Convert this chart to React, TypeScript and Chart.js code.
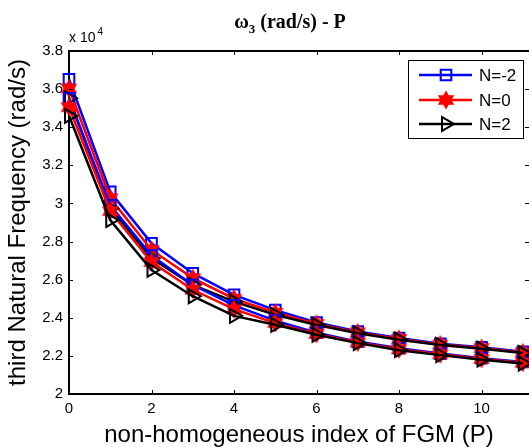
import React, { useEffect, useRef } from 'react';
import { Chart, registerables } from 'chart.js';
import { drawPoint } from 'chart.js/helpers';

Chart.register(...registerables);

// non-homogeneous index of FGM (P)
const P = [0, 1, 2, 3, 4, 5, 6, 7, 8, 9, 10, 11];

// third natural frequency (rad/s), upper group
const blueUpper = [36520, 30610, 27910, 26340, 25200, 24400, 23750, 23280, 22940, 22640, 22450, 22220];
const redUpper = [36030, 30270, 27560, 26080, 25000, 24270, 23680, 23230, 22890, 22600, 22410, 22180];
const blackUpper = [35520, 29740, 27120, 25730, 24850, 24150, 23620, 23190, 22850, 22570, 22380, 22150];

// lower group
const blueLower = [35500, 29900, 27270, 25720, 24650, 23850, 23220, 22750, 22400, 22120, 21880, 21680];
const redLower = [35050, 29600, 26930, 25470, 24450, 23720, 23150, 22700, 22350, 22080, 21840, 21640];
const blackLower = [34600, 29130, 26510, 25130, 24100, 23630, 23110, 22670, 22300, 22040, 21800, 21600];

const legendLabels = ['N=-2', 'N=0', 'N=2'];
const yTickValues = [20000, 22000, 24000, 26000, 28000, 30000, 32000, 34000, 36000, 38000];

const SANS = 'Arial, "Liberation Sans", Helvetica, sans-serif';
const SERIF = '"Times New Roman", "Liberation Serif", serif';

function makeStar(): HTMLCanvasElement {
  const c = document.createElement('canvas');
  c.width = 22;
  c.height = 22;
  const g = c.getContext('2d')!;
  const cx = 11, cy = 11, R = 9.5, r = R / Math.sqrt(3);
  g.beginPath();
  for (let i = 0; i < 12; i++) {
    const a = -Math.PI / 2 + (i * Math.PI) / 6;
    const rad = i % 2 === 0 ? R : r;
    const px = cx + rad * Math.cos(a);
    const py = cy + rad * Math.sin(a);
    if (i === 0) g.moveTo(px, py);
    else g.lineTo(px, py);
  }
  g.closePath();
  g.fillStyle = '#ff0000';
  g.fill();
  return c;
}

export default function App() {
  const ref = useRef<HTMLCanvasElement>(null);

  useEffect(() => {
    document.body.style.margin = '0';
    const star = makeStar();
    const styles = [
      { color: '#0000ff', pointStyle: 'rect' as any, radius: 7.5, rotation: 0 },
      { color: '#ff0000', pointStyle: star as any, radius: 8, rotation: 0 },
      { color: '#000000', pointStyle: 'triangle' as any, radius: 8, rotation: 90 },
    ];
    const series = [blueUpper, redUpper, blackUpper, blueLower, redLower, blackLower];
    const datasets = series.map((arr, i) => {
      const s = styles[i % 3];
      return {
        label: legendLabels[i % 3],
        data: P.map((p, k) => ({ x: p, y: arr[k] })),
        borderColor: s.color,
        borderWidth: 2.5,
        pointStyle: s.pointStyle,
        pointRadius: s.radius,
        pointRotation: s.rotation,
        pointBorderColor: s.color,
        pointBackgroundColor: 'rgba(0,0,0,0)',
        pointBorderWidth: 2,
        clip: false as any,
        order: 6 - i,
        tension: 0,
      };
    });

    const decor = {
      id: 'decor',
      afterDraw(chart: any) {
        const ctx = chart.ctx as CanvasRenderingContext2D;
        const { left, right, top, bottom } = chart.chartArea;
        const xs = chart.scales.x;
        const ys = chart.scales.y;
        ctx.save();
        // top border
        ctx.strokeStyle = '#000';
        ctx.lineWidth = 2;
        ctx.beginPath();
        ctx.moveTo(left - 1, top);
        ctx.lineTo(right, top);
        ctx.stroke();
        // inward ticks
        ctx.lineWidth = 1;
        ctx.beginPath();
        xs.ticks.forEach((t: any) => {
          const px = Math.round(xs.getPixelForValue(t.value)) + 0.5;
          if (px <= left + 2) return;
          ctx.moveTo(px, bottom);
          ctx.lineTo(px, bottom - 4);
          ctx.moveTo(px, top);
          ctx.lineTo(px, top + 4);
        });
        ys.ticks.forEach((t: any) => {
          const py = Math.round(ys.getPixelForValue(t.value)) + 0.5;
          if (py >= bottom - 2 || py <= top + 2) return;
          ctx.moveTo(left, py);
          ctx.lineTo(left + 4, py);
          ctx.moveTo(right - 4, py);
          ctx.lineTo(right, py);
        });
        ctx.stroke();

        // title
        ctx.fillStyle = '#000';
        ctx.textBaseline = 'alphabetic';
        ctx.textAlign = 'left';
        const mainFont = `bold 20px ${SERIF}`;
        const subFont = `bold 13px ${SERIF}`;
        ctx.font = mainFont;
        const w1 = ctx.measureText('\u03c9').width;
        const w3 = ctx.measureText(' (rad/s) - P').width;
        ctx.font = subFont;
        const w2 = ctx.measureText('3').width;
        let tx = 290 - (w1 + w2 + w3) / 2;
        ctx.font = mainFont;
        ctx.fillText('\u03c9', tx, 28);
        tx += w1;
        ctx.font = subFont;
        ctx.fillText('3', tx, 33);
        tx += w2;
        ctx.font = mainFont;
        ctx.fillText(' (rad/s) - P', tx, 28);

        // multiplier
        ctx.font = `14px ${SANS}`;
        ctx.fillText('x 10', left, 42);
        const wm = ctx.measureText('x 10').width;
        ctx.font = `10px ${SANS}`;
        ctx.fillText('4', left + wm + 2, 35);

        // legend
        const bx = 408, by = 60, bw = 115, bh = 78;
        ctx.fillStyle = '#fff';
        ctx.fillRect(bx, by, bw, bh);
        ctx.strokeStyle = '#000';
        ctx.lineWidth = 1;
        ctx.strokeRect(bx + 0.5, by + 0.5, bw, bh);
        const rows = [75, 100, 124];
        for (let i = 0; i < 3; i++) {
          const ds = chart.data.datasets[i];
          const y = rows[i];
          ctx.strokeStyle = ds.borderColor;
          ctx.lineWidth = ds.borderWidth;
          ctx.beginPath();
          ctx.moveTo(419, y);
          ctx.lineTo(472, y);
          ctx.stroke();
          ctx.strokeStyle = ds.pointBorderColor;
          ctx.fillStyle = ds.pointBackgroundColor;
          ctx.lineWidth = ds.pointBorderWidth;
          drawPoint(ctx, {
            pointStyle: ds.pointStyle,
            rotation: ds.pointRotation,
            radius: ds.pointRadius,
            borderWidth: ds.pointBorderWidth,
          } as any, 446, y);
          ctx.fillStyle = '#000';
          ctx.font = `17px ${SANS}`;
          ctx.textBaseline = 'middle';
          ctx.fillText(legendLabels[i], 479, y + 1);
        }
        ctx.restore();
      },
    };

    const chart = new Chart(ref.current!, {
      type: 'line',
      data: { datasets: datasets as any },
      options: {
        responsive: false,
        animation: false,
        devicePixelRatio: 1,
        layout: { autoPadding: false, padding: { top: 51, right: 0, left: 0, bottom: 0 } },
        plugins: { legend: { display: false }, tooltip: { enabled: false } },
        scales: {
          x: {
            type: 'linear',
            min: 0,
            max: 11.15,
            afterFit: (s: any) => { s.height = 53; s.paddingRight = 0; s.paddingLeft = 0; },
            ticks: {
              stepSize: 2,
              includeBounds: false,
              padding: 6,
              color: '#000',
              maxRotation: 0,
              font: { family: SANS, size: 15 },
              callback: (v: any) => String(v),
            },
            grid: { drawOnChartArea: false, drawTicks: false },
            border: { display: true, color: '#000', width: 2 },
            title: {
              display: true,
              text: 'non-homogeneous index of FGM (P)',
              color: '#000',
              font: { family: SANS, size: 24, lineHeight: 1 },
              padding: { top: 0, bottom: 0 },
            },
          },
          y: {
            type: 'linear',
            min: 20000,
            max: 38000,
            afterFit: (s: any) => { s.width = 69; s.paddingTop = 0; s.paddingBottom = 0; },
            afterBuildTicks: (s: any) => { s.ticks = yTickValues.map((v) => ({ value: v })); },
            ticks: {
              padding: 6,
              color: '#000',
              font: { family: SANS, size: 15 },
              callback: (v: any) => String(+(Number(v) / 1e4).toFixed(1)),
            },
            grid: { drawOnChartArea: false, drawTicks: false },
            border: { display: true, color: '#000', width: 2 },
            title: {
              display: true,
              text: 'third Natural Frequency (rad/s)',
              color: '#000',
              font: { family: SANS, size: 24, lineHeight: 1 },
              padding: { top: 6, bottom: 0 },
            },
          },
        },
      },
      plugins: [decor],
    });
    return () => chart.destroy();
  }, []);

  return <canvas ref={ref} width={529} height={447} style={{ display: 'block' }} />;
}
